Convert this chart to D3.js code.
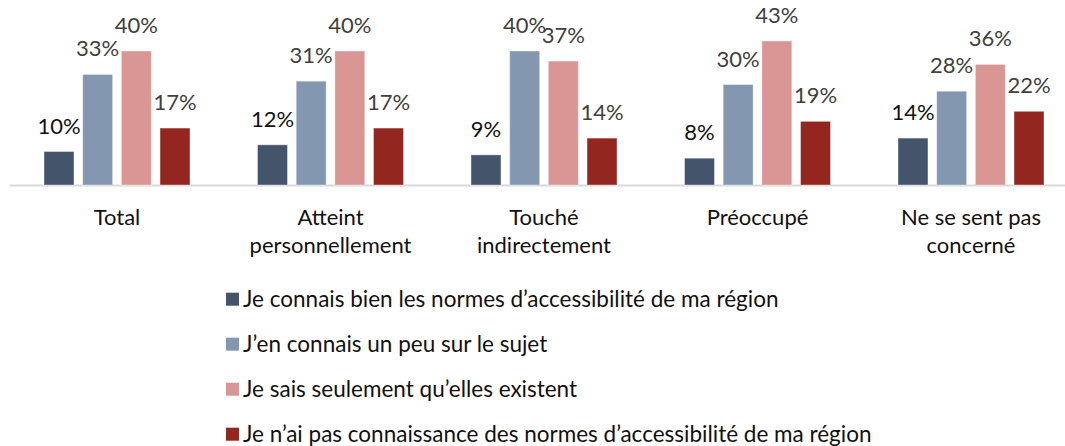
<!DOCTYPE html>
<html lang="fr">
<head>
    <meta charset="UTF-8">
    <title>Normes d'accessibilité</title>
    <script src="https://cdn.jsdelivr.net/npm/d3@7"></script>
    <style>
        body { margin: 0; background: #fff; }
        svg { display: block; font-family: Lato, "Open Sans", sans-serif; }
    </style>
</head>
<body>
<script>
    // données
    const categories = [
        ['Total'],
        ['Atteint', 'personnellement'],
        ['Touché', 'indirectement'],
        ['Préoccupé'],
        ['Ne se sent pas', 'concerné']
    ]
    const seriesNames = [
        'Je connais bien les normes d’accessibilité de ma région',
        'J’en connais un peu sur le sujet',
        'Je sais seulement qu’elles existent',
        'Je n’ai pas connaissance des normes d’accessibilité de ma région'
    ]
    const bienConnu = [10, 12, 9, 8, 14]
    const unPeu = [33, 31, 40, 30, 28]
    const existent = [40, 40, 37, 43, 36]
    const pasConnaissance = [17, 17, 14, 19, 22]
    const seriesValues = [bienConnu, unPeu, existent, pasConnaissance]

    const colors = ['#44546A', '#8497B0', '#DA9694', '#93261F']
    const labelColors = ['#111', '#404040', '#404040', '#404040']

    const width = 1065, height = 446
    const baseY = 185
    const fontSize = 22, legendFontSize = 22.5

    const svg = d3.select('body').append('svg')
        .attr('width', width)
        .attr('height', height)

    const x0 = d3.scaleBand()
        .domain(d3.range(categories.length))
        .range([10.25, 1077.75])
    const x1 = d3.scaleBand()
        .domain(d3.range(seriesValues.length))
        .range([33.75, 179.75])
        .paddingInner(0.225)
    const y = d3.scaleLinear()
        .domain([0, 50])
        .range([baseY, baseY - 167.5])

    // ligne de base
    svg.append('line')
        .attr('x1', 10).attr('x2', width)
        .attr('y1', baseY + 0.5).attr('y2', baseY + 0.5)
        .attr('stroke', '#D9D9D9')
        .attr('stroke-width', 2)

    const groups = svg.selectAll('g.group')
        .data(categories)
        .enter().append('g')
        .attr('class', 'group')
        .attr('transform', (d, i) => `translate(${x0(i)},0)`)

    groups.selectAll('rect')
        .data((d, i) => seriesValues.map((s, k) => ({k, v: s[i]})))
        .enter().append('rect')
        .attr('x', d => x1(d.k))
        .attr('y', d => y(d.v))
        .attr('width', x1.bandwidth())
        .attr('height', d => baseY - y(d.v))
        .attr('fill', d => colors[d.k])
        .attr('stroke', '#fff')
        .attr('stroke-opacity', 0.4)
        .attr('stroke-width', 1)

    groups.selectAll('text.value')
        .data((d, i) => seriesValues.map((s, k) => ({k, v: s[i]})))
        .enter().append('text')
        .attr('class', 'value')
        .attr('x', d => x1(d.k) + x1.bandwidth() / 2)
        .attr('y', d => y(d.v) - 18)
        .attr('text-anchor', 'middle')
        .attr('font-size', fontSize)
        .attr('fill', d => labelColors[d.k])
        .text(d => d.v + '%')

    // libellés des catégories
    groups.append('text')
        .attr('class', 'cat')
        .attr('x', x0.bandwidth() / 2)
        .attr('y', 225)
        .attr('text-anchor', 'middle')
        .attr('font-size', fontSize)
        .attr('fill', '#111')
        .selectAll('tspan')
        .data(d => d)
        .enter().append('tspan')
        .attr('x', x0.bandwidth() / 2)
        .attr('dy', (d, i) => i ? 28 : 0)
        .text(d => d)

    // légende
    const legend = svg.selectAll('g.legend')
        .data(seriesNames)
        .enter().append('g')
        .attr('class', 'legend')
        .attr('transform', (d, i) => `translate(226,${306.7 + i * 45})`)
    legend.append('rect')
        .attr('x', 0).attr('y', -14)
        .attr('width', 13).attr('height', 13)
        .attr('fill', (d, i) => colors[i])
    legend.append('text')
        .attr('x', 17)
        .attr('font-size', legendFontSize)
        .attr('fill', '#111')
        .text(d => d)
</script>
</body>
</html>
